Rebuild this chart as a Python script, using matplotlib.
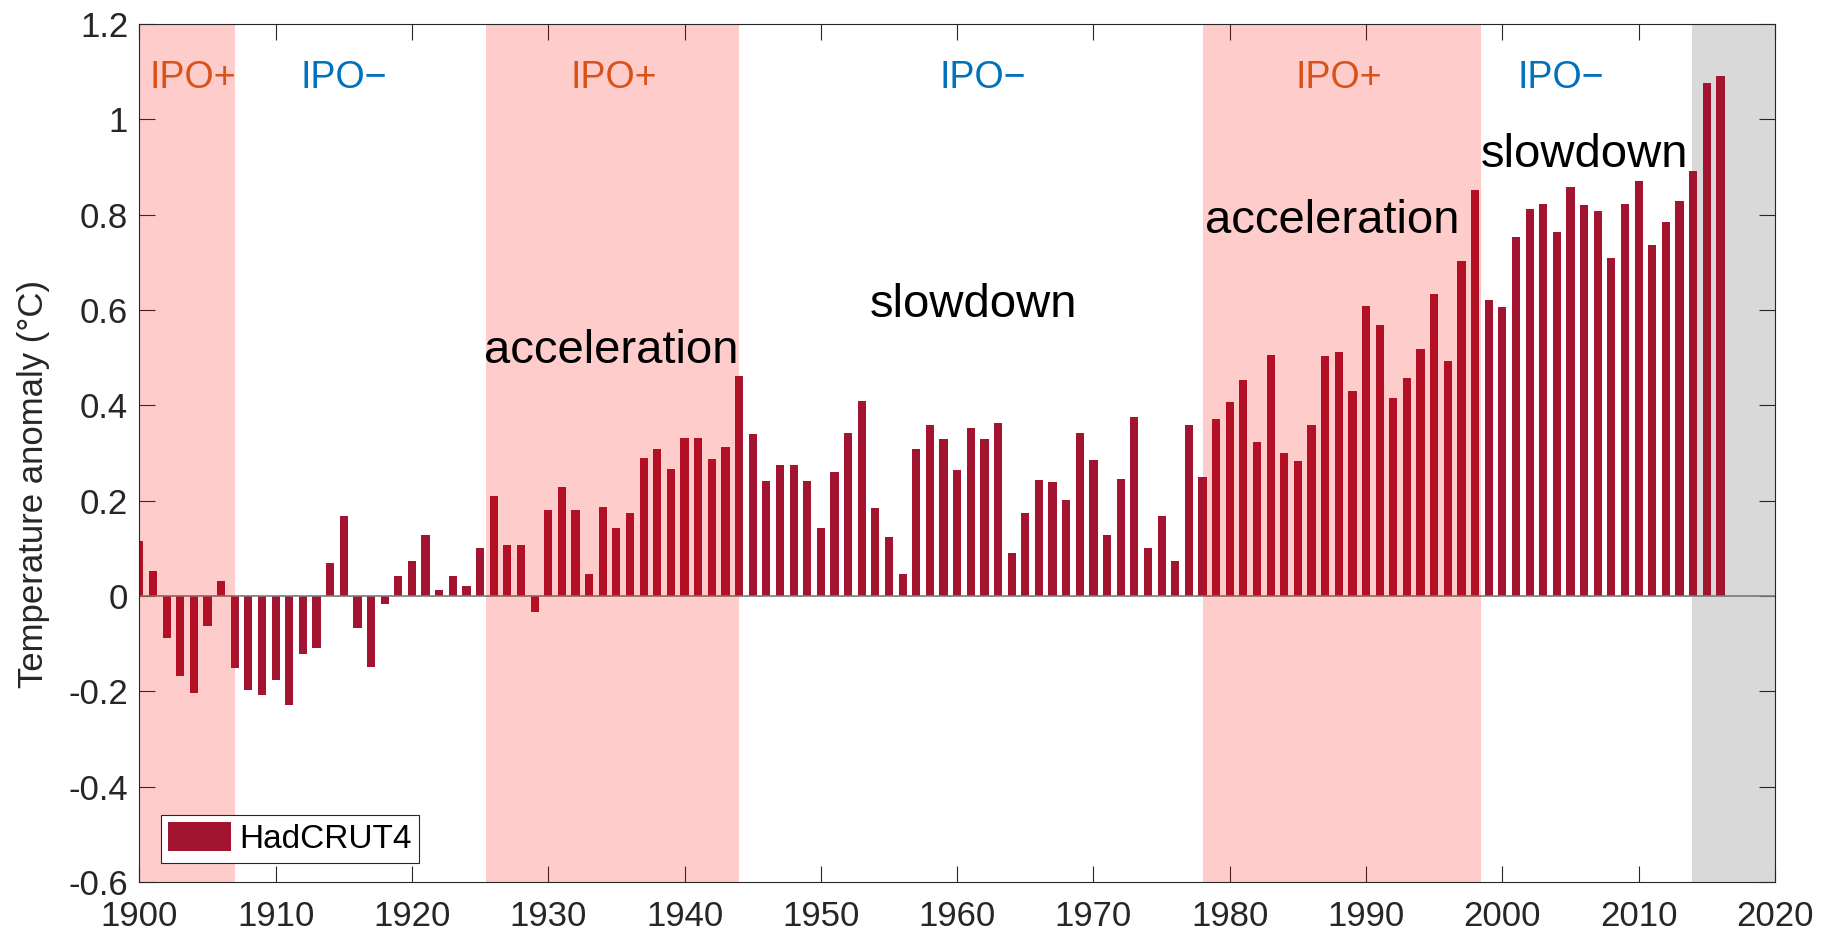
import matplotlib
matplotlib.use("Agg")
import matplotlib.pyplot as plt
from matplotlib import font_manager

# HadCRUT4 annual anomalies
years = list(range(1900, 2017))
anomaly = [
    0.116, 0.053, -0.089, -0.168, -0.204, -0.062, 0.031, -0.152, -0.197, -0.208,
    -0.177, -0.229, -0.122, -0.110, 0.069, 0.167, -0.067, -0.149, -0.016, 0.042,
    0.073, 0.127, 0.013, 0.042, 0.022, 0.100, 0.209, 0.106, 0.108, -0.033,
    0.180, 0.229, 0.180, 0.047, 0.187, 0.142, 0.174, 0.290, 0.309, 0.266,
    0.331, 0.332, 0.288, 0.313, 0.462, 0.339, 0.241, 0.275, 0.275, 0.241,
    0.142, 0.261, 0.343, 0.410, 0.185, 0.124, 0.047, 0.309, 0.359, 0.330,
    0.264, 0.353, 0.329, 0.362, 0.091, 0.174, 0.243, 0.239, 0.202, 0.343,
    0.285, 0.127, 0.245, 0.375, 0.101, 0.167, 0.073, 0.359, 0.249, 0.371,
    0.406, 0.454, 0.324, 0.506, 0.299, 0.283, 0.358, 0.504, 0.512, 0.431,
    0.609, 0.568, 0.416, 0.458, 0.519, 0.634, 0.492, 0.703, 0.851, 0.620,
    0.607, 0.753, 0.812, 0.823, 0.763, 0.859, 0.821, 0.807, 0.710, 0.822,
    0.871, 0.736, 0.784, 0.828, 0.891, 1.077, 1.090,
]

# IPO phases
ipo_pos_spans = [(1900, 1907), (1925.45, 1944), (1978, 1998.4)]
recent_span = (2013.9, 2020)
ipo_labels = ["IPO+", "IPO\u2212", "IPO+", "IPO\u2212", "IPO+", "IPO\u2212"]
ipo_label_x = [1903.9, 1915, 1934.8, 1961.9, 1988.0, 2004.3]

notes = ["acceleration", "slowdown", "acceleration", "slowdown"]
note_x = [1925.3, 1953.6, 1978.2, 1998.4]
note_y = [0.489, 0.586, 0.761, 0.900]

yticks = [-0.6, -0.4, -0.2, 0, 0.2, 0.4, 0.6, 0.8, 1, 1.2]
ytick_labels = ["-0.6", "-0.4", "-0.2", "0", "0.2", "0.4", "0.6", "0.8", "1", "1.2"]
xticks = list(range(1900, 2021, 10))

bar_color = "#A2142F"
plus_color = "#D95319"
minus_color = "#0072BD"
axis_color = "#262626"

plt.rcParams["font.family"] = ["Liberation Sans", "DejaVu Sans"]

names = {f.name for f in font_manager.fontManager.ttflist}
if "Liberation Sans Narrow" in names:
    ipo_family, ipo_size = "Liberation Sans Narrow", 33
else:
    ipo_family, ipo_size = "Liberation Sans", 27

fig = plt.figure(figsize=(18.31, 9.38), dpi=100)
ax = fig.add_axes([0.0761, 0.0597, 0.8933, 0.9147])

ax.axvspan(recent_span[0], recent_span[1], color="#D9D9D9", lw=0, zorder=0)
ax.bar(years, anomaly, width=0.6, color=bar_color, label="HadCRUT4", zorder=2)
ax.axhline(0, color="#7a7a7a", lw=1.2, zorder=3)
for x0, x1 in ipo_pos_spans:
    ax.axvspan(x0, x1, color="red", alpha=0.2, lw=0, zorder=4)

for lab, x in zip(ipo_labels, ipo_label_x):
    c = plus_color if lab.endswith("+") else minus_color
    ax.text(x, 1.065, lab, color=c, ha="center", va="baseline",
            family=[ipo_family, "DejaVu Sans"], fontsize=ipo_size, zorder=5)

for txt, x, y in zip(notes, note_x, note_y):
    ax.text(x, y, txt, ha="left", va="baseline", fontsize=34, color="black", zorder=5)

ax.set_xlim(1900, 2020)
ax.set_ylim(-0.6, 1.2)
ax.set_xticks(xticks)
ax.set_yticks(yticks)
ax.set_yticklabels(ytick_labels)
ax.tick_params(direction="in", length=11.3, width=0.8, colors=axis_color,
               labelsize=25, top=True, right=True)
ax.tick_params(axis="x", pad=13)
ax.tick_params(axis="y", pad=8)
for s in ax.spines.values():
    s.set_color(axis_color)
    s.set_linewidth(0.8)
    s.set_zorder(6)

ax.set_ylabel("Temperature anomaly (\u00b0C)", fontsize=25, color=axis_color)
ax.yaxis.set_label_coords(-0.0546, 0.464)

leg = ax.legend(loc="lower left", bbox_to_anchor=(0.0131, 0.0225), borderaxespad=0,
                fontsize=24, handlelength=1.88, handleheight=0.96, borderpad=0.22,
                handletextpad=0.25, fancybox=False, framealpha=1, edgecolor=axis_color)
leg.get_frame().set_linewidth(0.8)
leg.set_zorder(7)

fig.savefig("out.png", dpi=100)
